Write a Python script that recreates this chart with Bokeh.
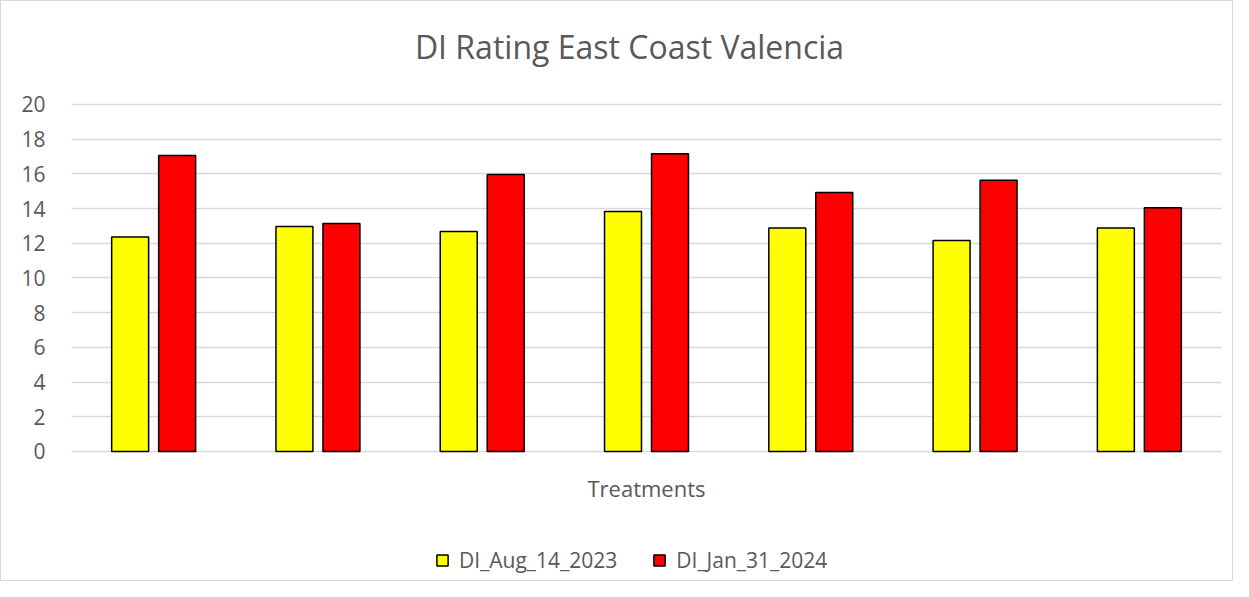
from bokeh.plotting import figure
from bokeh.models import ColumnDataSource, Legend, LegendItem, FactorRange, Label
from bokeh.transform import dodge
from bokeh.embed import file_html
from bokeh.resources import INLINE

categories = ["T1", "T2", "T3", "T4", "T5", "T6", "T7"]
di_aug_14_2023 = [12.36, 12.97, 12.68, 13.83, 12.88, 12.16, 12.88]
di_jan_31_2024 = [17.06, 13.14, 15.97, 17.16, 14.93, 15.64, 14.05]
y_ticks = [0, 2, 4, 6, 8, 10, 12, 14, 16, 18, 20]

source = ColumnDataSource(dict(cat=categories, aug=di_aug_14_2023, jan=di_jan_31_2024))

FONT = "Open Sans"
GREY = "#595959"

# frame spans the whole figure height; title, axis title and legend live in blank margins
p = figure(
    x_range=FactorRange(*categories, range_padding=0),
    y_range=(-7.493, 25.879),
    width=1233, height=581,
    output_backend="svg", toolbar_location=None,
    min_border_left=70, min_border_right=13, min_border_top=1, min_border_bottom=1,
)
p.styles = {"border": "1px solid #d9d9d9"}

title = Label(text="DI Rating East Coast Valencia", x=558, y=535, x_units="screen", y_units="screen",
              text_align="center", text_baseline="middle", text_font=FONT,
              text_font_size="32px", text_color=GREY)
p.add_layout(title)

r1 = p.vbar(x=dodge("cat", -0.143, range=p.x_range), top="aug", width=0.225, source=source,
            fill_color="#ffff00", line_color="black", line_width=1.5)
r2 = p.vbar(x=dodge("cat", 0.143, range=p.x_range), top="jan", width=0.225, source=source,
            fill_color="#ff0000", line_color="black", line_width=1.5)

p.outline_line_color = None
p.xgrid.grid_line_color = None
p.yaxis.ticker = y_ticks
p.ygrid.ticker = y_ticks
p.ygrid.grid_line_color = "#d9d9d9"
p.ygrid.grid_line_width = 1.5
p.yaxis.axis_line_color = None
p.yaxis.major_tick_line_color = None
p.yaxis.minor_tick_line_color = None
p.yaxis.major_label_text_font = FONT
p.yaxis.major_label_text_font_size = "21px"
p.yaxis.major_label_text_color = GREY
p.yaxis.major_label_standoff = 20

p.xaxis.visible = False

xlabel = Label(text="Treatments", x=575, y=94, x_units="screen", y_units="screen",
               text_align="center", text_baseline="middle", text_font=FONT,
               text_font_size="22px", text_color=GREY)
p.add_layout(xlabel)

legend = Legend(
    items=[LegendItem(label="DI_Aug_14_2023", renderers=[r1]),
           LegendItem(label="DI_Jan_31_2024", renderers=[r2])],
    orientation="horizontal", location=(364, 7),
    label_text_font=FONT, label_text_font_size="21px", label_text_color=GREY,
    glyph_width=14, glyph_height=14, spacing=35, label_standoff=10,
    border_line_color=None, background_fill_alpha=0, margin=0, padding=5,
)
p.add_layout(legend, "center")

open("out.html", "w").write(file_html(p, INLINE))
